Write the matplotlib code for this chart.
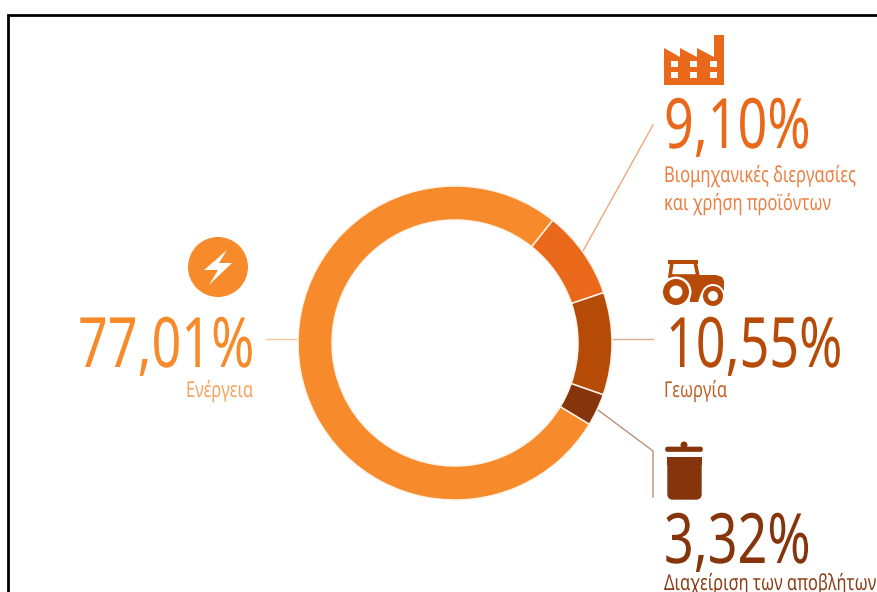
import matplotlib
matplotlib.use('Agg')
import matplotlib.pyplot as plt
from matplotlib.patches import Polygon, Circle, Rectangle, FancyBboxPatch
from matplotlib.patheffects import AbstractPathEffect
from matplotlib.text import Text
from matplotlib.transforms import Affine2D, Bbox

plt.rcParams['font.family'] = ['Noto Sans', 'DejaVu Sans']

# shares, clockwise from the upper right of the ring
sectors = ['Βιομηχανικές διεργασίες', 'Γεωργία', 'Διαχείριση των αποβλήτων', 'Ενέργεια']
sector_line2 = 'και χρήση προϊόντων'
shares = [9.10, 10.55, 3.32, 77.01]
colors = ['#E9681A', '#B64B08', '#85340B', '#F78B2B']
label_colors = ['#EC7F42', '#BF6028', '#8A3D14', '#F7A25E']

W, H = 878, 592
fig = plt.figure(figsize=(W / 100, H / 100), dpi=100, facecolor='white')

# overlay in pixel units for text, leaders and icons
ax = fig.add_axes([0, 0, 1, 1])
ax.set_xlim(0, W)
ax.set_ylim(H, 0)
ax.axis('off')

# ring
cx, cy, r = 455, 343, 157
pie_ax = fig.add_axes([(cx - r) / W, (H - cy - r) / H, 2 * r / W, 2 * r / H])
pie_ax.pie(shares, colors=colors, startangle=51.5, counterclock=False, radius=1,
           wedgeprops=dict(width=34 / 157, edgecolor='#FDF3EA', linewidth=1.1))
pie_ax.set_xlim(-1, 1)
pie_ax.set_ylim(-1, 1)

# frame, open on the right and bottom
ax.plot([8, 8, W], [H, 15, 15], color='black', lw=2, solid_joinstyle='miter')

# leaders
ax.plot([266, 298], [339, 339], color='#F9C79A', lw=1)
ax.plot([583, 653], [251, 125], color='#F0A67C', lw=1)
ax.plot([612, 653], [339, 339], color='#DDAE92', lw=1)
ax.plot([598, 653, 653], [410, 451, 497], color='#B98F7C', lw=1)

SQUEEZE = 0.75


class Squeeze(AbstractPathEffect):
    # no condensed face is installed, so narrow the glyph outlines
    def draw_path(self, renderer, gc, tpath, affine, rgbFace=None):
        renderer.draw_path(gc, tpath, Affine2D().scale(SQUEEZE, 1) + affine, rgbFace)


class NarrowText(Text):
    # extent follows the narrowed outlines, measured from the left edge
    def get_window_extent(self, renderer=None, dpi=None):
        bb = super().get_window_extent(renderer, dpi)
        return Bbox.from_extents(bb.x0, bb.y0, bb.x0 + bb.width * SQUEEZE, bb.y1)


def pct(v):
    return f'{v:.2f}'.replace('.', ',') + '%'


def label(x, y, s, color, size):
    t = NarrowText(x, y, s, color=color, fontsize=size, va='baseline',
                   path_effects=[Squeeze()])
    ax.add_artist(t)


big = 50
small = 15.8
# percentages and names
label(664, 148, pct(shares[0]), colors[0], big)
label(664, 182, sectors[0], label_colors[0], small)
label(664, 210, sector_line2, label_colors[0], small)
label(666, 367, pct(shares[1]), colors[1], big)
label(664, 397, sectors[1], label_colors[1], small)
label(664, 563, pct(shares[2]), colors[2], big)
label(664, 590, sectors[2], label_colors[2], small)
label(78, 367, pct(shares[3]), colors[3], big)
label(186, 397, sectors[3], label_colors[3], small)

# lightning icon
ax.add_patch(Circle((218, 267), 30, color=colors[3], lw=0))
ax.add_patch(Polygon([(227, 250), (204, 270), (218, 270), (209, 285), (232, 263), (219, 263)],
                     color='white', lw=0))

# factory icon
ax.add_patch(Polygon([(664, 85), (664, 48), (680, 57), (680, 48), (697, 57), (697, 48),
                      (714, 57), (714, 35), (724, 35), (724, 85)], color=colors[0], lw=0))
for wx in [671, 690, 710]:
    for wy in [61, 72]:
        ax.add_patch(Rectangle((wx, wy), 7, 6, color='white', lw=0))

# tractor icon
c = colors[1]
ax.add_patch(Polygon([(669, 275), (716, 275), (722, 277), (724, 281), (724, 293), (701, 293),
                      (698, 302), (690, 302), (688, 284), (669, 281)], color=c, lw=0))
ax.add_patch(Polygon([(672, 262), (695, 262), (698, 276), (670, 276)], fill=False, ec=c, lw=2.6))
ax.add_patch(Rectangle((668, 260), 30, 4, color=c, lw=0))
ax.add_patch(Circle((676, 292), 15.5, color='white', lw=0))
ax.add_patch(Circle((713, 296), 12, color='white', lw=0))
ax.add_patch(Circle((676, 292), 13, color=c, lw=0))
ax.add_patch(Circle((676, 292), 6.5, color='white', lw=0))
ax.add_patch(Circle((713, 296), 10, color=c, lw=0))
ax.add_patch(Circle((713, 296), 5, color='white', lw=0))

# bin icon
c = colors[2]
ax.add_patch(Circle((684, 445), 3.5, color=c, lw=0))
ax.add_patch(FancyBboxPatch((666, 447.5), 36, 3.5, boxstyle='round,pad=0,rounding_size=1.5',
                            fc=c, ec=c, lw=1.2))
ax.add_patch(FancyBboxPatch((668, 458), 33, 41, boxstyle='round,pad=0,rounding_size=5',
                            fc=c, ec=c, lw=1))
ax.add_patch(Rectangle((667, 457), 35, 8, color=c, lw=0))

fig.savefig('out.png', dpi=100)
